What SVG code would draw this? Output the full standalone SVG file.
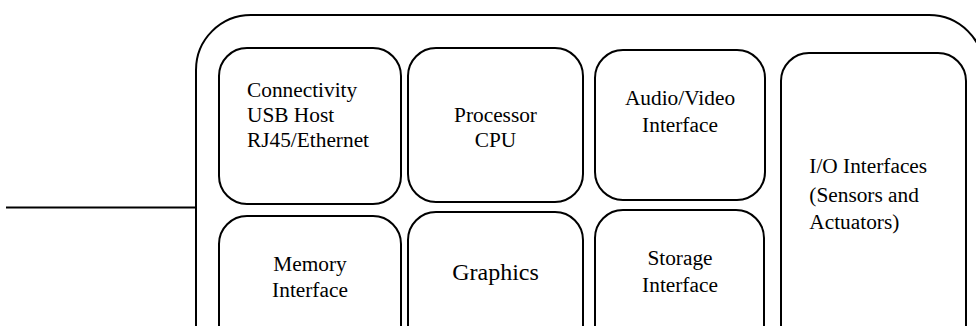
<svg xmlns="http://www.w3.org/2000/svg" width="976" height="326" viewBox="0 0 976 326">
<style>
.box{fill:#fff;stroke:#000;stroke-width:2}
text{font-family:'Liberation Serif','DejaVu Serif',serif;font-size:21.33px;fill:#000}
.c{text-anchor:middle}
.line{stroke:#000;stroke-width:2;fill:none}
</style>
<rect width="976" height="326" fill="#fff"/>
<g id="connectors">
<line class="line" x1="6" y1="207.5" x2="196" y2="207.5"/>
</g>
<g id="board">
<rect class="box" x="196" y="15" width="788" height="420" rx="55" ry="55"/>
</g>
<g id="connectivity" font-family="Liberation Serif, serif">
<rect class="box" x="219" y="48" width="182" height="156" rx="28" ry="28"/>
<text x="247" y="97.3">Connectivity</text>
<text x="247" y="122.3">USB Host</text>
<text x="247" y="147.3">RJ45/Ethernet</text>
</g>
<g id="processor">
<rect class="box" x="408" y="48" width="175" height="154" rx="28" ry="28"/>
<text class="c" x="495.5" y="121.7">Processor</text>
<text class="c" x="495.5" y="146.7">CPU</text>
</g>
<g id="audio-video">
<rect class="box" x="595" y="50" width="170" height="150" rx="28" ry="28"/>
<text class="c" x="680" y="105">Audio/Video</text>
<text class="c" x="680" y="131.7">Interface</text>
</g>
<g id="io">
<rect class="box" x="781" y="53" width="185" height="400" rx="28" ry="28"/>
<text x="809.3" y="173.3">I/O Interfaces</text>
<text x="809.3" y="201.5">(Sensors and</text>
<text x="809.3" y="229.3">Actuators)</text>
</g>
<g id="memory">
<rect class="box" x="219" y="216" width="182" height="300" rx="28" ry="28"/>
<text class="c" x="310" y="271">Memory</text>
<text class="c" x="310" y="297.3">Interface</text>
</g>
<g id="graphics">
<rect class="box" x="408" y="212" width="175" height="300" rx="28" ry="28"/>
<text class="c" x="495.5" y="280" style="font-size:24px">Graphics</text>
</g>
<g id="storage">
<rect class="box" x="595" y="210" width="169" height="300" rx="28" ry="28"/>
<text class="c" x="680" y="265">Storage</text>
<text class="c" x="680" y="292.3">Interface</text>
</g>
</svg>
